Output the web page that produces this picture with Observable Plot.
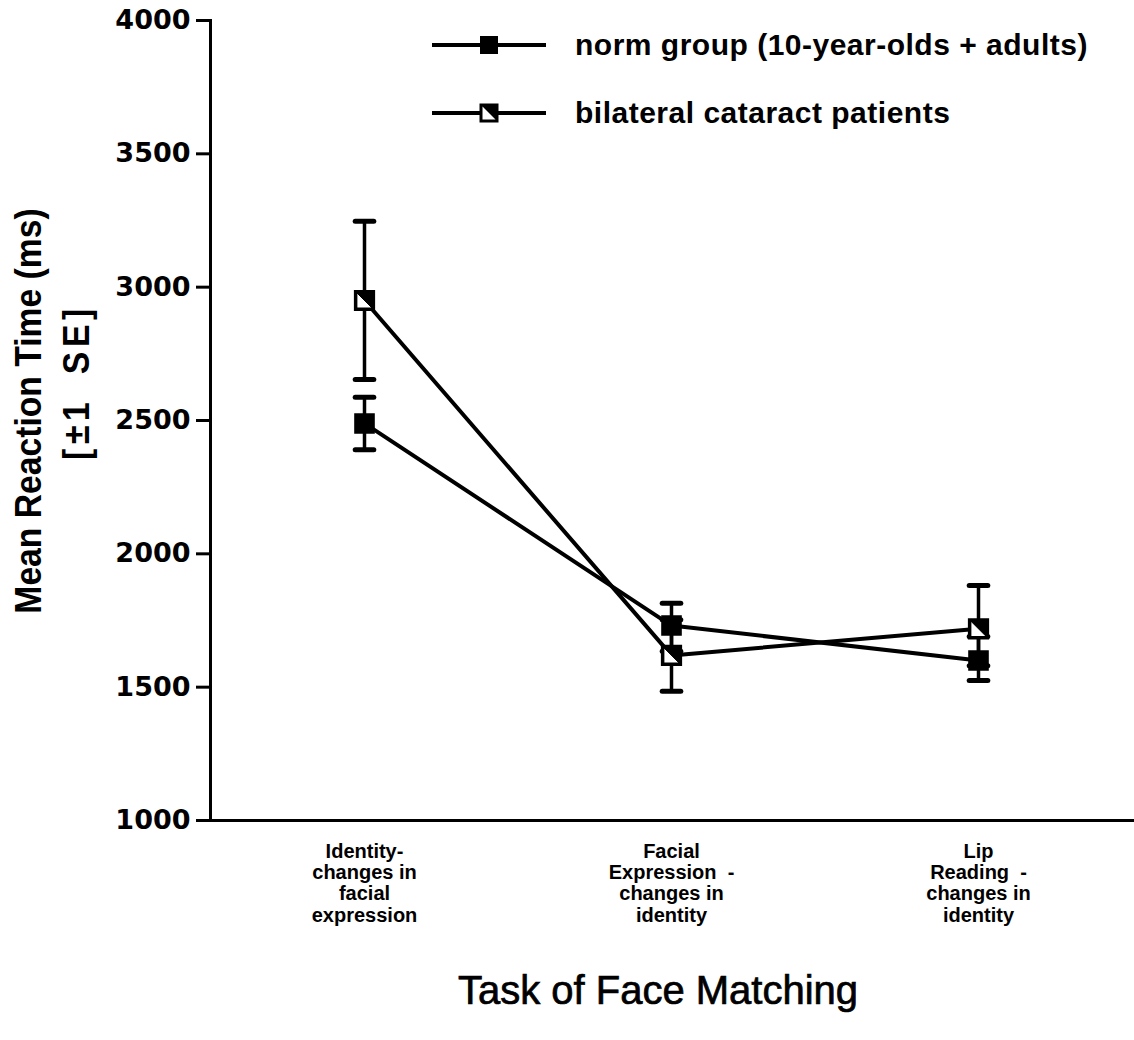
<!DOCTYPE html>
<html>
<head>
<meta charset="utf-8">
<script src="https://cdn.jsdelivr.net/npm/d3@7"></script>
<script src="https://cdn.jsdelivr.net/npm/@observablehq/plot@0.6"></script>
<style>
  body { margin: 0; background: #fff; }
  #wrap { position: relative; width: 1134px; height: 1040px; background: #fff; overflow: hidden; }
  #wrap svg.plot { position: absolute; left: 0; top: 0; }
  .ov { position: absolute; white-space: nowrap; color: #000; font-family: "Liberation Sans", Arial, sans-serif; line-height: 1; }
  .ylab { font-weight: bold; font-size: 36px; transform: translate(-50%, -50%) rotate(-90deg) scaleX(0.935); }
  .ylab2 { letter-spacing: 5px; word-spacing: 10px; }
  .leg { font-weight: bold; font-size: 30px; letter-spacing: 0.5px; transform: translateY(-50%); }
  .xtitle { font-size: 40px; -webkit-text-stroke: 0.7px #000; transform: translate(-50%, -50%); }
</style>
</head>
<body>
<div id="wrap"></div>
<script>
// ---- data ----
const categories = [
  "Identity-\nchanges in\nfacial\nexpression",
  "Facial\nExpression  -\nchanges in\nidentity",
  "Lip\nReading  -\nchanges in\nidentity"
];
const groups = ["norm group (10-year-olds + adults)", "bilateral cataract patients"];
const normMean = [2489, 1731, 1600];
const normLow = [2390, 1635, 1525];
const normHigh = [2587, 1815, 1690];
const cataractMean = [2950, 1619, 1719];
const cataractLow = [2654, 1485, 1580];
const cataractHigh = [3247, 1753, 1881];
const yTicks = [1000, 1500, 2000, 2500, 3000, 3500, 4000];

const rows = [];
categories.forEach((c, i) => {
  rows.push({task: c, group: groups[0], mean: normMean[i], low: normLow[i], high: normHigh[i]});
  rows.push({task: c, group: groups[1], mean: cataractMean[i], low: cataractLow[i], high: cataractHigh[i]});
});
const caps = rows.flatMap(d => [{task: d.task, v: d.low}, {task: d.task, v: d.high}]);
const norm = rows.filter(d => d.group === groups[0]);
const cat = rows.filter(d => d.group === groups[1]);

const hline = { draw(ctx, size) { const w = Math.sqrt(size); ctx.moveTo(-w / 2, 0); ctx.lineTo(w / 2, 0); } };
const tri = { draw(ctx, size) { const w = Math.sqrt(size) / 2; ctx.moveTo(-w, -w); ctx.lineTo(w, -w); ctx.lineTo(w, w); ctx.closePath(); } };

const plot = Plot.plot({
  width: 1134,
  height: 940,
  marginLeft: 210,
  marginRight: 0,
  marginTop: 20,
  marginBottom: 120,
  style: { background: "#fff", color: "#000", overflow: "visible" },
  x: { type: "point", domain: categories, range: [210, 1131], padding: 0.5 },
  y: { domain: [1000, 4000] },
  marks: [
    Plot.axisY({ ticks: yTicks, tickFormat: d => String(d), tickSize: 14, tickPadding: 6, strokeWidth: 3, fontSize: 27, fontWeight: "bold", fontFamily: "DejaVu Sans", label: null }),
    Plot.axisX({ tickSize: 0, tickPadding: 22, fontSize: 20, fontWeight: "bold", fontFamily: "Liberation Sans", lineHeight: 1.07, label: null }),
    Plot.frame({ anchor: "left", strokeWidth: 3 }),
    Plot.ruleY([1000], { strokeWidth: 3, insetRight: -3 }),
    Plot.line(rows, { x: "task", y: "mean", z: "group", stroke: "#000", strokeWidth: 4 }),
    Plot.ruleX(rows, { x: "task", y1: "low", y2: "high", stroke: "#000", strokeWidth: 3.5 }),
    Plot.dot(caps, { x: "task", y: "v", symbol: hline, r: 10.5, stroke: "#000", strokeWidth: 5, strokeLinecap: "round" }),
    Plot.dot(norm, { x: "task", y: "mean", symbol: "square", r: 10.5, fill: "#000", stroke: "#000", strokeWidth: 2 }),
    Plot.dot(cat, { x: "task", y: "mean", symbol: "square", r: 10, fill: "#fff", stroke: "#000", strokeWidth: 3.5 }),
    Plot.dot(cat, { x: "task", y: "mean", symbol: tri, r: 10, fill: "#000", stroke: "#000", strokeWidth: 1 })
  ]
});
plot.classList.add("plot");
const wrap = document.getElementById("wrap");
wrap.appendChild(plot);

function add(cls, text, x, y) {
  const d = document.createElement("div");
  d.className = "ov " + cls;
  d.textContent = text;
  d.style.left = x + "px";
  d.style.top = y + "px";
  wrap.appendChild(d);
  return d;
}
add("ylab", "Mean Reaction Time (ms)", 29, 411);
add("ylab ylab2", "[±1 SE]", 77, 382);
add("xtitle", "Task of Face Matching", 658, 990);

// legend
const legY = [45, 113];
groups.forEach((g, i) => {
  const ns = "http://www.w3.org/2000/svg";
  const s = document.createElementNS(ns, "svg");
  s.setAttribute("width", 116); s.setAttribute("height", 30);
  s.style.position = "absolute"; s.style.left = "431px"; s.style.top = (legY[i] - 15) + "px";
  const l = document.createElementNS(ns, "line");
  l.setAttribute("x1", 1); l.setAttribute("x2", 115); l.setAttribute("y1", 15); l.setAttribute("y2", 15);
  l.setAttribute("stroke", "#000"); l.setAttribute("stroke-width", 4);
  s.appendChild(l);
  const r = document.createElementNS(ns, "rect");
  r.setAttribute("x", 50); r.setAttribute("y", 7); r.setAttribute("width", 16); r.setAttribute("height", 16);
  r.setAttribute("fill", i === 0 ? "#000" : "#fff"); r.setAttribute("stroke", "#000"); r.setAttribute("stroke-width", i === 0 ? 2 : 3);
  s.appendChild(r);
  if (i === 1) {
    const p = document.createElementNS(ns, "path");
    p.setAttribute("d", "M50,7 L66,7 L66,23 Z"); p.setAttribute("fill", "#000");
    s.appendChild(p);
  }
  wrap.appendChild(s);
  add("leg", g, 575, legY[i]);
});
</script>
</body>
</html>
